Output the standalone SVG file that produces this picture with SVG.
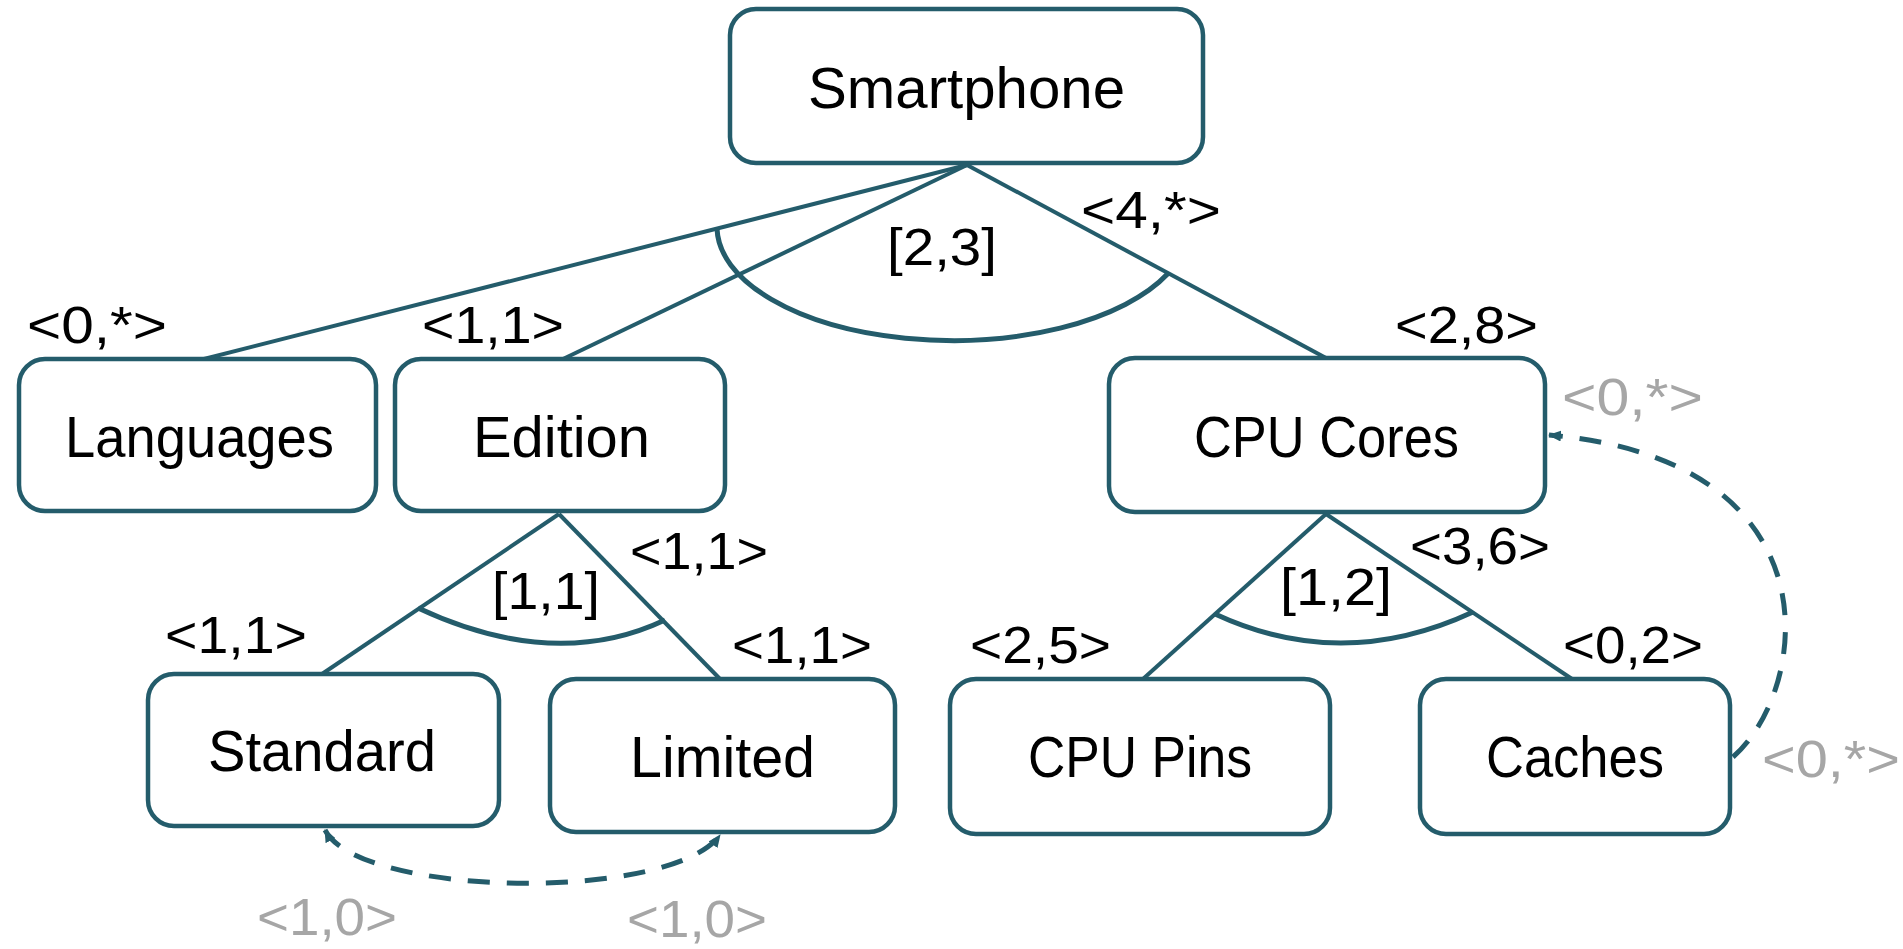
<svg xmlns="http://www.w3.org/2000/svg" width="1903" height="949" viewBox="0 0 1903 949">
<style>
.box{fill:#fff;stroke:#245C6B;stroke-width:4.5}
.ln{fill:none;stroke:#245C6B;stroke-width:4}
.arc{fill:none;stroke:#245C6B;stroke-width:5}
.dash{fill:none;stroke:#245C6B;stroke-width:5;stroke-dasharray:22 17}
.nt{font-family:"Liberation Sans",Arial,sans-serif;font-size:57px;fill:#000}
.lb{font-family:"Liberation Sans",Arial,sans-serif;font-size:52px;fill:#000}
.gl{font-family:"Liberation Sans",Arial,sans-serif;font-size:52px;fill:#A6A6A6}
</style>
<defs>
<marker id="ah" markerUnits="userSpaceOnUse" viewBox="0 0 13 11" markerWidth="13" markerHeight="11" refX="12" refY="5.5" orient="auto-start-reverse">
<path d="M0,0 L13,5.5 L0,11 z" fill="#245C6B"/>
</marker>
</defs>
<rect width="1903" height="949" fill="#fff"/>
<g id="connectors">
<line class="ln" x1="967" y1="165" x2="200" y2="360"/>
<line class="ln" x1="967" y1="165" x2="563" y2="359"/>
<line class="ln" x1="967" y1="165" x2="1326" y2="358"/>
<path class="arc" d="M717,228.6 A236,114 0 0 0 1168,273.5"/>
<line class="ln" x1="559" y1="514" x2="322" y2="674"/>
<line class="ln" x1="559" y1="514" x2="720" y2="679"/>
<path class="arc" d="M418,608 Q555,672 665,620"/>
<line class="ln" x1="1326" y1="514" x2="1143" y2="679"/>
<line class="ln" x1="1326" y1="514" x2="1572" y2="679"/>
<path class="arc" d="M1215,614 Q1342,673 1473,612"/>
<path class="dash" d="M325,830 C360,898 672,902 720,835" marker-start="url(#ah)" marker-end="url(#ah)"/>
<path class="dash" d="M1733,757 C1810,690 1840,460 1549,435" marker-end="url(#ah)"/>
</g>
<g id="smartphone"><rect class="box" x="730" y="9" width="473" height="154" rx="26"/><text class="nt" x="808" y="108" textLength="317" lengthAdjust="spacingAndGlyphs">Smartphone</text></g>
<g id="languages"><rect class="box" x="19" y="359" width="357" height="152" rx="26"/><text class="nt" x="65" y="457" textLength="269" lengthAdjust="spacingAndGlyphs">Languages</text></g>
<g id="edition"><rect class="box" x="395" y="359" width="330" height="152" rx="26"/><text class="nt" x="473" y="457" textLength="177" lengthAdjust="spacingAndGlyphs">Edition</text></g>
<g id="cpucores"><rect class="box" x="1109" y="358" width="436" height="154" rx="26"/><text class="nt" x="1194" y="457" textLength="265" lengthAdjust="spacingAndGlyphs">CPU Cores</text></g>
<g id="standard"><rect class="box" x="148" y="674" width="351" height="152" rx="26"/><text class="nt" x="208" y="771" textLength="228" lengthAdjust="spacingAndGlyphs">Standard</text></g>
<g id="limited"><rect class="box" x="550" y="679" width="345" height="153" rx="26"/><text class="nt" x="630" y="777" textLength="185" lengthAdjust="spacingAndGlyphs">Limited</text></g>
<g id="cpupins"><rect class="box" x="950" y="679" width="380" height="155" rx="26"/><text class="nt" x="1028" y="777" textLength="224" lengthAdjust="spacingAndGlyphs">CPU Pins</text></g>
<g id="caches"><rect class="box" x="1420" y="679" width="310" height="155" rx="26"/><text class="nt" x="1486" y="777" textLength="178" lengthAdjust="spacingAndGlyphs">Caches</text></g>
<g id="labels">
<text class="lb" x="27" y="343" textLength="140" lengthAdjust="spacingAndGlyphs">&lt;0,*&gt;</text>
<text class="lb" x="422" y="343" textLength="142" lengthAdjust="spacingAndGlyphs">&lt;1,1&gt;</text>
<text class="lb" x="1081" y="228" textLength="140" lengthAdjust="spacingAndGlyphs">&lt;4,*&gt;</text>
<text class="lb" x="887" y="265" textLength="110" lengthAdjust="spacingAndGlyphs">[2,3]</text>
<text class="lb" x="1395" y="343" textLength="143" lengthAdjust="spacingAndGlyphs">&lt;2,8&gt;</text>
<text class="gl" x="1562" y="415" textLength="141" lengthAdjust="spacingAndGlyphs">&lt;0,*&gt;</text>
<text class="lb" x="630" y="569" textLength="138" lengthAdjust="spacingAndGlyphs">&lt;1,1&gt;</text>
<text class="lb" x="492" y="609" textLength="108" lengthAdjust="spacingAndGlyphs">[1,1]</text>
<text class="lb" x="165" y="653" textLength="142" lengthAdjust="spacingAndGlyphs">&lt;1,1&gt;</text>
<text class="lb" x="732" y="663" textLength="140" lengthAdjust="spacingAndGlyphs">&lt;1,1&gt;</text>
<text class="gl" x="257" y="935" textLength="140" lengthAdjust="spacingAndGlyphs">&lt;1,0&gt;</text>
<text class="gl" x="627" y="937" textLength="140" lengthAdjust="spacingAndGlyphs">&lt;1,0&gt;</text>
<text class="lb" x="970" y="663" textLength="141" lengthAdjust="spacingAndGlyphs">&lt;2,5&gt;</text>
<text class="lb" x="1280" y="605" textLength="112" lengthAdjust="spacingAndGlyphs">[1,2]</text>
<text class="lb" x="1410" y="564" textLength="140" lengthAdjust="spacingAndGlyphs">&lt;3,6&gt;</text>
<text class="lb" x="1563" y="663" textLength="140" lengthAdjust="spacingAndGlyphs">&lt;0,2&gt;</text>
<text class="gl" x="1762" y="777" textLength="138" lengthAdjust="spacingAndGlyphs">&lt;0,*&gt;</text>
</g>
</svg>
